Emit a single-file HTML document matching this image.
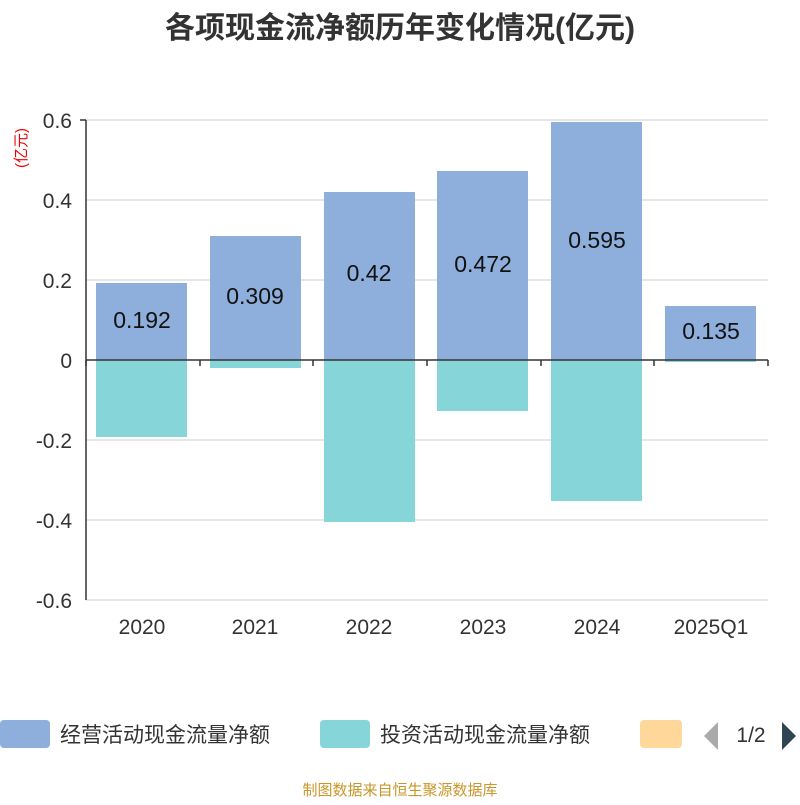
<!DOCTYPE html>
<html><head><meta charset="utf-8"><style>
body{margin:0;background:#fff;width:800px;height:800px;overflow:hidden;font-family:"Liberation Sans","Noto Sans CJK SC",sans-serif}
</style></head><body>
<svg width="800" height="800" xmlns="http://www.w3.org/2000/svg" font-family="Liberation Sans, Noto Sans CJK SC, sans-serif">
<text x="400" y="38" text-anchor="middle" font-size="30" font-weight="bold" fill="#333">各项现金流净额历年变化情况(亿元)</text>
<text transform="translate(26,148) rotate(-90)" text-anchor="middle" font-size="15" fill="#e00">(亿元)</text>
<g stroke="#ccc" stroke-width="1">
<line x1="86" y1="120" x2="768" y2="120"/><line x1="86" y1="200" x2="768" y2="200"/>
<line x1="86" y1="280" x2="768" y2="280"/><line x1="86" y1="440" x2="768" y2="440"/>
<line x1="86" y1="520" x2="768" y2="520"/><line x1="86" y1="600" x2="768" y2="600"/>
</g>
<g font-size="21" fill="#333" text-anchor="end">
<text x="72" y="128">0.6</text><text x="72" y="208">0.4</text><text x="72" y="288">0.2</text>
<text x="72" y="368">0</text><text x="72" y="448">-0.2</text><text x="72" y="528">-0.4</text><text x="72" y="608">-0.6</text>
</g>
<g fill="#8eaedb">
<rect x="96" y="283" width="91" height="77"/><rect x="210" y="236" width="91" height="124"/>
<rect x="324" y="192" width="91" height="168"/><rect x="437" y="171" width="91" height="189"/>
<rect x="551" y="122" width="91" height="238"/><rect x="665" y="306" width="91" height="54"/>
</g>
<g fill="#86d5d8">
<rect x="96" y="360" width="91" height="77"/><rect x="210" y="360" width="91" height="8"/>
<rect x="324" y="360" width="91" height="162"/><rect x="437" y="360" width="91" height="51"/>
<rect x="551" y="360" width="91" height="141"/><rect x="665" y="360" width="91" height="2"/>
</g>
<g stroke="#333" stroke-width="1.5">
<line x1="86" y1="120" x2="86" y2="600"/><line x1="80" y1="120" x2="86" y2="120"/>
<line x1="86" y1="360" x2="768" y2="360"/>
<line x1="86" y1="360" x2="86" y2="366"/><line x1="200" y1="360" x2="200" y2="366"/>
<line x1="313" y1="360" x2="313" y2="366"/><line x1="427" y1="360" x2="427" y2="366"/>
<line x1="541" y1="360" x2="541" y2="366"/><line x1="654" y1="360" x2="654" y2="366"/>
<line x1="768" y1="360" x2="768" y2="366"/>
</g>
<g font-size="23" fill="#111" text-anchor="middle">
<text x="142" y="328">0.192</text><text x="255" y="304">0.309</text><text x="369" y="281">0.42</text>
<text x="483" y="272">0.472</text><text x="597" y="248">0.595</text><text x="711" y="339">0.135</text>
</g>
<g font-size="21" fill="#333" text-anchor="middle">
<text x="142" y="634">2020</text><text x="255" y="634">2021</text><text x="369" y="634">2022</text>
<text x="483" y="634">2023</text><text x="597" y="634">2024</text><text x="711" y="634">2025Q1</text>
</g>
<rect x="0" y="720" width="50" height="28" rx="4" fill="#8eaedb"/>
<text x="60" y="742" font-size="21" fill="#333">经营活动现金流量净额</text>
<rect x="320" y="720" width="50" height="28" rx="4" fill="#86d5d8"/>
<text x="380" y="742" font-size="21" fill="#333">投资活动现金流量净额</text>
<rect x="640" y="720" width="42" height="28" rx="4" fill="#fdd89a"/>
<polygon points="718,722 718,750 704,736" fill="#aaa"/>
<text x="751" y="742" font-size="21" fill="#333" text-anchor="middle">1/2</text>
<polygon points="782,722 782,750 796,736" fill="#2f4554"/>
<text x="400" y="795" font-size="15" fill="#c9962a" text-anchor="middle">制图数据来自恒生聚源数据库</text>
</svg>
</body></html>
